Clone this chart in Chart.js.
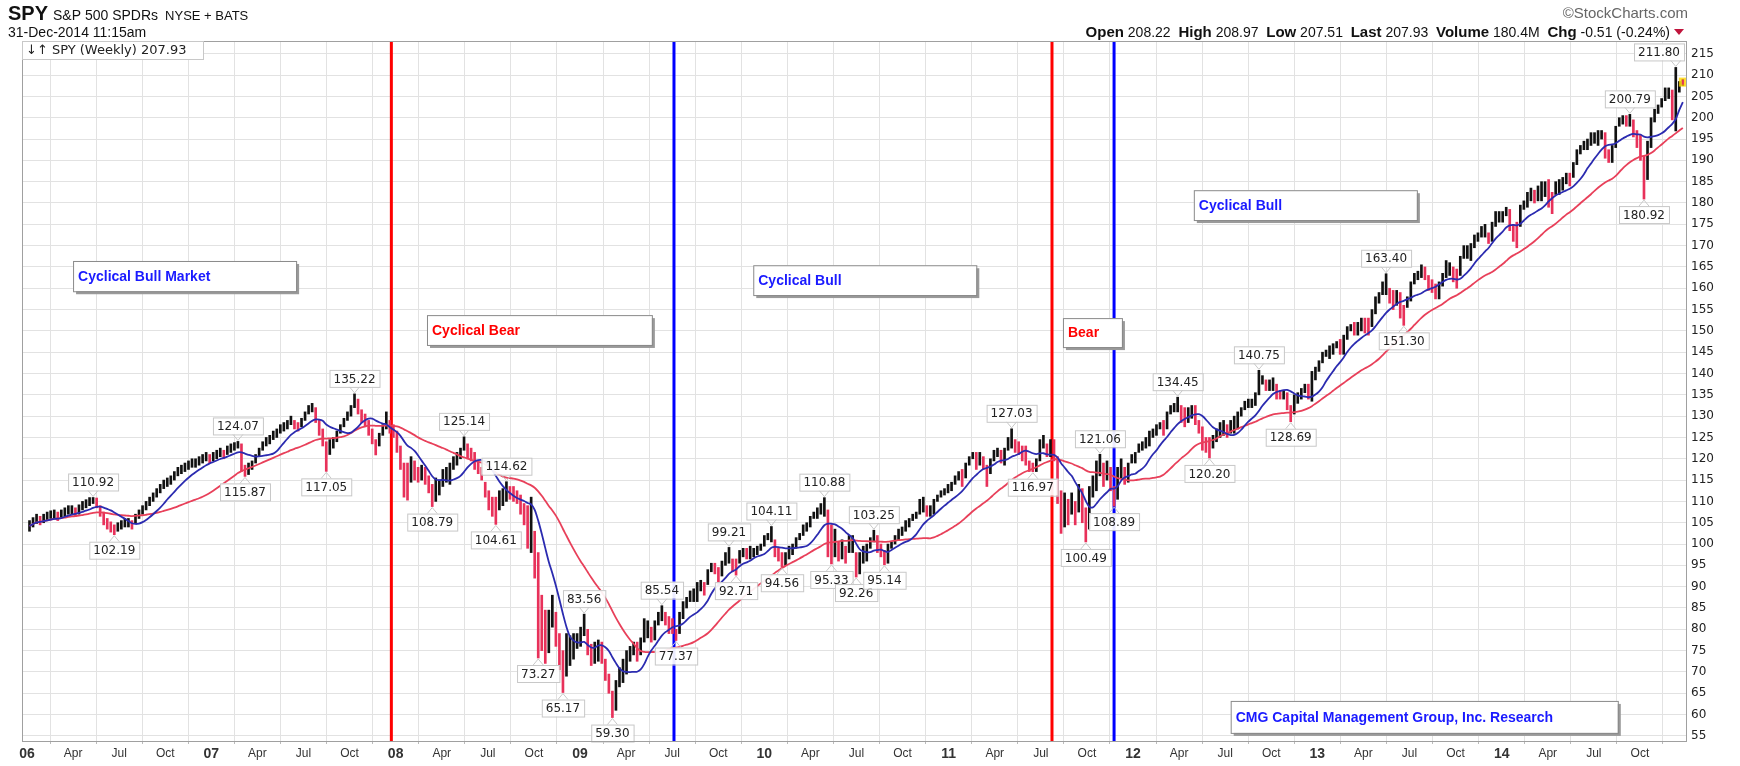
<!DOCTYPE html>
<html><head><meta charset="utf-8">
<script src="https://cdn.jsdelivr.net/npm/chart.js@4.4.1/dist/chart.umd.min.js"></script>
<style>html,body{margin:0;padding:0;background:#fff;overflow:hidden}</style>
</head><body>
<canvas id="c" width="1740" height="766"></canvas>
<script>
// Weekly highs / lows (split-adjusted), 52 weeks per year (53 in 2014)
const h2006=[105.5,106.2,107,106.5,107,107.5,107.8,108,107.5,108,108.5,109,109,108.5,109.2,110,110.4,110.9,110.92,110.8,109,107.5,106,105.2,104.5,105,105.5,106,106,105.5,107,108,109,110,111,112,113,114,115,115.5,116,117,118,118.5,119,119.5,120,120,120.5,121,121.5,121];
const l2006=[103,104,104.8,104.5,105,105.5,106,106,105.5,106.2,106.5,107,107,106.5,107,108,108.5,109,109.5,108.5,106.5,104.5,103.5,102.8,102.19,103,103.5,104,104,103.5,105,106,107,108,109,110,111,112,113,113.5,114,115,116,116.5,117,117.5,118,118,118.5,119,119.5,119];
const h2007=[121.5,122,122.5,122,123,123.5,123.8,124.07,123.5,118.5,119,119.5,121,122.5,124,125,125.5,126.5,127,128,128.5,129,130,129,128.5,129.5,131,132.5,133,132,129,127,124,124.5,125,126.5,128,129.5,131,132.5,135.22,134,131.5,130.5,129,127,124.5,126,128,131,129,128];
const l2007=[119.5,120,120.5,120,121,121.5,122,122.5,117,115.87,116.3,117.5,119,120.5,122,123,123.5,124.5,125,126,126.5,127,128,127,126.5,127.5,129,130.5,131,128.5,125.5,123,117.05,121,122.5,124,126,127.5,129,130,132,130.5,128.5,127.5,125.5,123.5,120.9,123,125.5,127,126,125];
const h2008=[126.5,123,119,119,120.5,119.5,118,118.5,118,116,114,115.5,115,117.5,118,119,120.5,121.5,122.5,125.14,123.5,122.5,121.5,119.5,118,114.5,112.5,111,111,112.5,113,114.62,113.5,113.5,112.5,111.5,109.5,109,111,103,98,88,84.5,84.5,88,84,79,75,79,78.5,79,79];
const l2008=[121.5,117.5,111,110.3,114.5,115,114.5,115,114,112,108.79,110,111.5,113.5,114.5,114,117.5,118.5,120,122,120,119.5,117.5,116.5,115,111,108,106.5,104.61,108,109,110,110.5,110,109.5,107,104.5,99,98,92,73.27,75,72,74.5,80.5,76,70.5,65.17,69,71.5,73,75.5];
const h2009=[80.5,83.56,80,76.5,77,77.5,77,73,69.5,65.5,68,71,73,75,76,77,77,78,82.5,82,80.5,82,84,85.54,84,83,82.5,80,84,86.5,87.5,89,89.5,91,91.5,91,94,95.5,95.5,94.5,96,98,99.21,96.5,96.5,98.5,99,99,99.5,99,99.5,100];
const l2009=[76,78.5,74,71.5,72,72.5,72,68,65,59.30,61,66.5,67.5,69.5,72.5,74,72.5,74,77,78,77,77.5,81,82,81,79,79,77.37,79,82.5,85,86.5,86.5,86.5,89,88,90.5,93.5,93,90,92.5,95,95.5,93.5,92.71,95.5,97,96.5,96.5,97,97.5,98.5];
const h2010=[102,102.5,104.11,101,99,98,98,99.5,100,101.5,102.5,104.5,105,106.5,107.5,108.5,109.5,110.88,108,104.5,103.5,100.5,101,99.5,102,102,98,98,99.5,100,101.5,103.25,102,100,98.5,100,100.5,102,103.5,104,105.5,106,107,107.5,110.5,111,109,109,110.5,111.5,112.5,113];
const l2010=[99.5,101,100.5,97,96,94.56,95,96.5,97.5,99,101,102,103,104,106,106,107,106.5,97,95.33,97,96,96.5,95.5,98,98,92.26,93,95.5,96,99,100.5,98,97,95.14,95.5,99,100,101,102,103,104,105.5,106,107,107.5,106.5,106.5,107,110,111,111.5];
const h2011=[114,114.5,116,117,117.5,119,120.5,121.5,121.5,121.5,120.5,118.5,120,122,122.5,122,122.5,125,127.03,124.5,124,123,123,119.5,119,120,124.5,125.5,123.5,124.5,124.5,120.5,112.5,112,110.5,112,110,114,113,108.5,113.5,116,119.5,121.06,119,119.5,118,113.5,118,120,118,119];
const l2011=[112,112.5,114,115,113.5,115.5,118.5,120,117.5,118.5,117.5,113.5,116.5,119.5,120.5,119,118.5,122,122.5,121.5,121,119.5,118.5,117,116.97,117,119.5,122.5,120.5,120.5,119.5,109.5,102.5,104,104.5,107,104.5,107.5,105,100.49,103.5,111,112.5,116,113.5,115,112.5,108.89,110.5,115.5,114,114.5];
const h2012=[121,121.5,123.5,124,125,126.5,127,128,128.5,129,131,132.5,133,134.45,132.5,132,132,132.5,132.5,129,127.5,125,125,125.5,127,128.5,129,128,129,130,131,132,133.5,134,134,135.5,140.75,139.5,138.5,138.5,139,137.5,136,136,135.5,132.5,135,135.5,136.5,137.5,137.5,140.5];
const l2012=[119,119,121.5,122,122.5,123,125,125.5,127,125.5,127,130.5,131,131,128.5,127.5,128.5,129.5,128,126,122,121.5,120.20,122.5,124,125,125.5,125,126,126,127,130,131.5,132,132,132.5,135,137.5,136,136,136,134,134,134,131.5,128.69,130.5,133,134,135.5,134,133.5];
const h2013=[141.5,143,145,145.5,146.5,147,147.5,148,149,151,151.5,152,152,153,153,153,155,158,159,161.5,163.40,160,159.5,159.5,159,156,158,161.5,163.5,164,165.5,165,163,162,161,161.5,163.5,166.5,166,165,164.5,167.5,170,170,170.5,172.5,173,174.5,175,173,175.5,178];
const l2013=[138.5,140.5,142.5,144,143.5,144.5,146,144.5,144.5,148,150,149,149,150,149.5,149,151,154,156.5,158.5,158.5,156.5,155,156,153,151.30,155.5,157,161,162,162.5,162,159.5,159,157.5,157.5,160.5,162.5,163,161.5,160,163,167,167,166.5,169.5,171,172,172,170.5,171,174.5];
const h2014=[178,178,179,178.5,175,175.5,179.5,180.5,182.5,183.5,183,184,185,185,185.5,182.5,185,185.5,186,187,187,189.5,192.5,193.5,194.5,195,196.5,196.5,197,197,196.5,192.5,193.5,198,200,200.5,200.5,200.79,199.5,197,196,191,194.5,200,202,203,204.5,207,207,206.5,211.80,208.5,208.97];
const l2014=[175.5,175.5,177,173.5,171,169.5,174.5,178.5,179,180.5,180,180.5,180.5,181.5,179,177.5,182,182,183,184.5,184,186,189,191.5,192.5,192.5,193.5,194,193.5,195,190.5,189.5,189.5,193,198,198.5,198,198,195.5,193,190,180.92,185.5,193,199,201,202.5,204,204.5,199.5,196.9,206,207.51];

const highs=[].concat(h2006,h2007,h2008,h2009,h2010,h2011,h2012,h2013,h2014);
const lows=[].concat(l2006,l2007,l2008,l2009,l2010,l2011,l2012,l2013,l2014);

// Labelled extremes
const peakWeeks=[18,59,92,123,135,157,179,198,210,225,239,278,303,325,348,384,453,466];
const peakVals=["110.92","124.07","135.22","125.14","114.62","83.56","85.54","99.21","104.11","110.88","103.25","127.03","121.06","134.45","140.75","163.40","200.79","211.80"];
const troughWeeks=[24,61,84,114,132,144,151,165,183,200,213,227,234,242,284,299,307,334,357,389,457];
const troughVals=["102.19","115.87","117.05","108.79","104.61","73.27","65.17","59.30","77.37","92.71","94.56","95.33","92.26","95.14","116.97","100.49","108.89","120.20","128.69","151.30","180.92"];

// Vertical cycle markers
const markerDates=["2007-12-24","2009-07-06","2011-07-25","2011-11-25"];
const markerColors=["#ff0000","#0000ff","#ff0000","#0000ff"];

// Text boxes
const boxTexts=["Cyclical Bull Market","Cyclical Bear","Cyclical Bull","Bear","Cyclical Bull","CMG Capital Management Group, Inc. Research"];
const boxColors=["#1a1aff","#ff0000","#1a1aff","#ff0000","#1a1aff","#1a1aff"];
const boxX=[[0.25,1.46],[2.17,3.39],[3.94,5.15],[5.62,5.94],[6.33,7.54],[6.53,8.63]];
const boxY=[[166.4,159.3],[153.7,146.7],[165.4,158.4],[153,146.2],[183,176],[63.2,55.7]];

const yTicks=[];for(let v=55;v<=215;v+=5)yTicks.push(v);
const monthNames={0:null,3:"Apr",6:"Jul",9:"Oct"};

const weekX=i=>(5+7*i)/365.25;
const dateX=s=>{const d=new Date(s+"T00:00:00Z");return (d-Date.UTC(2006,0,1))/(365.25*864e5);};
const mids=highs.map((h,i)=>(h+lows[i])/2);
function sma(n){return mids.map((_,i)=>{const a=mids.slice(Math.max(0,i-n+1),i+1);return {x:weekX(i),y:a.reduce((s,v)=>s+v,0)/a.length};});}
const barData=highs.map((h,i)=>({x:weekX(i),y:[lows[i],h]}));
const barColors=mids.map((m,i)=>i>0&&m<mids[i-1]?"#e8315a":"#111");

const overlay={id:"overlay",
 beforeDatasetsDraw(ch){const {ctx,chartArea:a,scales:{x}}=ch;ctx.save();
  markerDates.forEach((d,k)=>{const px=x.getPixelForValue(dateX(d));ctx.strokeStyle=markerColors[k];ctx.lineWidth=3;ctx.beginPath();ctx.moveTo(px,a.top);ctx.lineTo(px,a.bottom);ctx.stroke();});
  ctx.restore();},
 afterDatasetsDraw(ch){const {ctx,chartArea:a,scales:{x,y}}=ch;ctx.save();
  const li=highs.length-1;const lx=x.getPixelForValue(weekX(li));const ly=y.getPixelForValue(mids[li]);
  ctx.fillStyle="rgba(255,215,0,0.8)";ctx.fillRect(lx-4,ly-5,8,9);ctx.fillStyle="#e8315a";ctx.fillRect(lx-1,ly-3,2,5);
  ctx.font="12px 'DejaVu Sans'";ctx.textBaseline="middle";ctx.textAlign="center";
  function tag(i,t,above){const px=x.getPixelForValue(weekX(i));const v=above?highs[i]:lows[i];const py=y.getPixelForValue(v);
   const w=ctx.measureText(t).width+8,hgt=17;const by=above?Math.max(a.top+1,py-7-hgt):py+7;
   let bx=px-w/2;if(bx+w>a.right-2)bx=a.right-2-w;
   ctx.fillStyle="rgba(255,255,255,0.92)";ctx.strokeStyle="#c8c8c8";ctx.lineWidth=1;
   ctx.fillRect(bx,by,w,hgt);ctx.strokeRect(bx+0.5,by+0.5,w,hgt);
   ctx.beginPath();if(above){ctx.moveTo(px-5,by+hgt);ctx.lineTo(px,py-1);ctx.lineTo(px+5,by+hgt);}else{ctx.moveTo(px-5,by);ctx.lineTo(px,py+1);ctx.lineTo(px+5,by);}ctx.stroke();
   ctx.fillStyle="#222";ctx.fillText(t,bx+w/2,by+hgt/2+1);}
  peakWeeks.forEach((w,k)=>tag(w,peakVals[k],true));
  troughWeeks.forEach((w,k)=>tag(w,troughVals[k],false));
  ctx.textAlign="left";ctx.font="bold 14px 'Liberation Sans', Arial";
  boxTexts.forEach((t,k)=>{const x0=x.getPixelForValue(boxX[k][0]),x1=x.getPixelForValue(boxX[k][1]);const y0=y.getPixelForValue(boxY[k][0]),y1=y.getPixelForValue(boxY[k][1]);
   ctx.fillStyle="#9a9a9a";ctx.fillRect(x0+3,y0+3,x1-x0,y1-y0);
   ctx.fillStyle="#fff";ctx.fillRect(x0,y0,x1-x0,y1-y0);ctx.strokeStyle="#8a8a8a";ctx.lineWidth=1;ctx.strokeRect(x0+0.5,y0+0.5,x1-x0,y1-y0);
   ctx.fillStyle=boxColors[k];ctx.fillText(t,x0+5,(y0+y1)/2+1);});
  ctx.strokeStyle="#a0a0a0";ctx.lineWidth=1;ctx.strokeRect(a.left+0.5,a.top+0.5,a.right-a.left,a.bottom-a.top);
  ctx.fillStyle="#fff";ctx.fillRect(a.left+1,a.top+1,180,17);ctx.strokeStyle="#c8c8c8";ctx.strokeRect(a.left+0.5,a.top+0.5,181,18);
  ctx.fillStyle="#222";ctx.font="13px 'DejaVu Sans'";ctx.fillText("\u2193\u2191 SPY (Weekly) 207.93",a.left+4,a.top+10);
  ctx.restore();},
 afterDraw(ch){const {ctx}=ch;ctx.save();ctx.textBaseline="alphabetic";ctx.textAlign="left";ctx.fillStyle="#111";
  ctx.font="bold 20px 'Liberation Sans', Arial";ctx.fillText("SPY",8,20);
  let w=ctx.measureText("SPY").width;ctx.font="14px 'Liberation Sans', Arial";ctx.fillText("S&P 500 SPDRs",8+w+5,20);
  let w2=ctx.measureText("S&P 500 SPDRs").width;ctx.font="13px 'Liberation Sans', Arial";ctx.fillText("NYSE + BATS",8+w+5+w2+7,20);
  ctx.font="14px 'Liberation Sans', Arial";ctx.fillText("31-Dec-2014 11:15am",8,37);
  ctx.fillStyle="#666";ctx.font="15px 'Liberation Sans', Arial";ctx.textAlign="right";ctx.fillText("\u00a9StockCharts.com",1688,18);
  const parts=[["Open","b"],[" 208.22  ","n"],["High","b"],[" 208.97  ","n"],["Low","b"],[" 207.51  ","n"],["Last","b"],[" 207.93  ","n"],["Volume","b"],[" 180.4M  ","n"],["Chg","b"],[" -0.51 (-0.24%)","n"]];
  const fb="bold 15px 'Liberation Sans', Arial",fn="14px 'Liberation Sans', Arial";
  let tot=0;parts.forEach(p=>{ctx.font=p[1]==="b"?fb:fn;tot+=ctx.measureText(p[0]).width;});
  let cx=1670-tot;ctx.textAlign="left";ctx.fillStyle="#111";
  parts.forEach(p=>{ctx.font=p[1]==="b"?fb:fn;ctx.fillText(p[0],cx,37);cx+=ctx.measureText(p[0]).width;});
  ctx.fillStyle="#c0143c";ctx.beginPath();ctx.moveTo(cx+4,29);ctx.lineTo(cx+14,29);ctx.lineTo(cx+9,35);ctx.closePath();ctx.fill();
  ctx.restore();}
};

new Chart(document.getElementById("c"),{
 data:{datasets:[
  {type:"bar",data:barData,backgroundColor:barColors,borderWidth:0,barThickness:2,order:3},
  {type:"line",data:sma(10),borderColor:"#2b2bb0",borderWidth:1.8,pointRadius:0,tension:0.3,order:1},
  {type:"line",data:sma(30),borderColor:"#e8405a",borderWidth:1.8,pointRadius:0,tension:0.3,order:2}
 ]},
 options:{responsive:false,animation:false,devicePixelRatio:1,
  layout:{padding:{left:22,top:41,right:0,bottom:0}},
  plugins:{legend:{display:false},tooltip:{enabled:false}},
  scales:{
   x:{type:"linear",min:-0.027,max:9.0,offset:false,
     afterBuildTicks(s){const t=[];for(let yr=0;yr<9;yr++)for(const m of [0,3,6,9])t.push({value:yr+m/12});s.ticks=t;},
     afterFit(s){s.height=25;},
     grid:{color:"#e2e2e2",drawTicks:true,tickLength:3,tickColor:"#bbb"},border:{display:false},
     ticks:{autoSkip:false,maxRotation:0,padding:2,color:"#333",
       callback(v){const yr=Math.floor(v+1e-6);const m=Math.round((v-yr)*12);return m===0?String(6+yr).padStart(2,"0"):monthNames[m];},
       font(c){const lbl=c.tick&&c.tick.label;return /^\d\d$/.test(lbl)?{family:"'Liberation Sans Narrow','Liberation Sans',Arial",size:14,weight:"bold"}:{family:"'Liberation Sans Narrow','Liberation Sans',Arial",size:12};}}},
   y:{position:"right",min:53.8,max:218,
     afterBuildTicks(s){s.ticks=yTicks.map(v=>({value:v}));},
     afterFit(s){s.width=54;},
     grid:{color:"#e2e2e2",drawTicks:false},border:{display:false},
     ticks:{padding:5,color:"#222",font:{family:"'DejaVu Sans'",size:12},callback:v=>String(v)}}
  }},
 plugins:[overlay]
});
</script></body></html>
